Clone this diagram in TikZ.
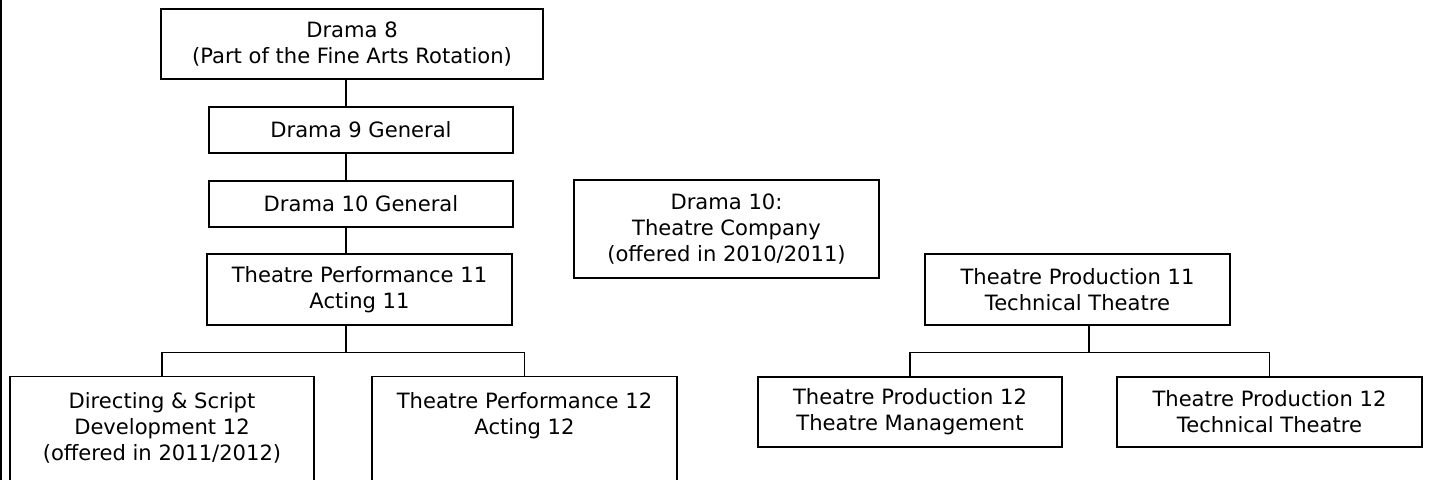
\documentclass[tikz,border=0pt]{standalone}
\usepackage{fontspec}
\setmainfont{DejaVu Sans}
\usepackage{tikz}

\begin{document}
\begin{tikzpicture}[x=0.02cm,y=-0.02cm,
    course/.style={draw,line width=0.75pt,inner sep=0pt,align=center,
      minimum width=6.1cm,minimum height=1.42cm,
      font=\fontsize{12}{14.8}\selectfont},
    opencourse/.style={course,anchor=north,minimum height=0pt,inner ysep=0.31cm,
      text depth=3cm}]
      \useasboundingbox (0,0) rectangle (1431,480);
      \clip (0,0) rectangle (1431,480);
      \draw[line width=0.75pt] (1,0) -- (1,480);

      \node[course] (1) at ( 352, 44) [minimum width=7.64cm,minimum height=1.4cm] {Drama 8\\(Part of the Fine Arts Rotation)};
      \node[course] (2) at ( 361,130) [minimum width=6.08cm,minimum height=0.92cm] {Drama 9 General};
      \node[course] (3) at ( 361,204) [minimum width=6.08cm,minimum height=0.92cm] {Drama 10 General};
      \node[course] (4) at ( 359.5,289.5) {Theatre Performance 11\\Acting 11};
      \node[opencourse] (5) at ( 162,376) [minimum width=6.08cm] {Directing \& Script\\Development 12\\(offered in 2011/2012)};
      \node[opencourse] (6) at ( 524.5,376) {Theatre Performance 12\\Acting 12};
      \node[course] (7) at ( 726.5,229) [minimum height=1.96cm] {Drama 10:\\Theatre Company\\(offered in 2010/2011)};
      \node[course] (8) at (1077.5,289.5) {Theatre Production 11\\Technical Theatre};
      \node[course] (9) at ( 910,412) [minimum width=6.08cm,minimum height=1.4cm] {Theatre Production 12\\Theatre Management};
      \node[course] (10) at (1269.5,412) [minimum height=1.4cm] {Theatre Production 12\\Technical Theatre};

      \coordinate (s) at (346,0);
      \coordinate (t) at (1089,0);

      \draw[line width=0.75pt] (s |- 1.south) -- (s |- 2.north);
      \draw[line width=0.75pt] (s |- 2.south) -- (s |- 3.north);
      \draw[line width=0.75pt] (s |- 3.south) -- (s |- 4.north);
      \draw[line width=0.75pt] (s |- 4.south) -- ++(0,27) coordinate (b1) -| (5.north);
      \draw[line width=0.75pt] (b1) -| (6.north);
      \draw[line width=0.75pt] (t |- 8.south) -- ++(0,27) coordinate (b2) -| (9.north);
      \draw[line width=0.75pt] (b2) -| (10.north);
    \end{tikzpicture}
\end{document}
